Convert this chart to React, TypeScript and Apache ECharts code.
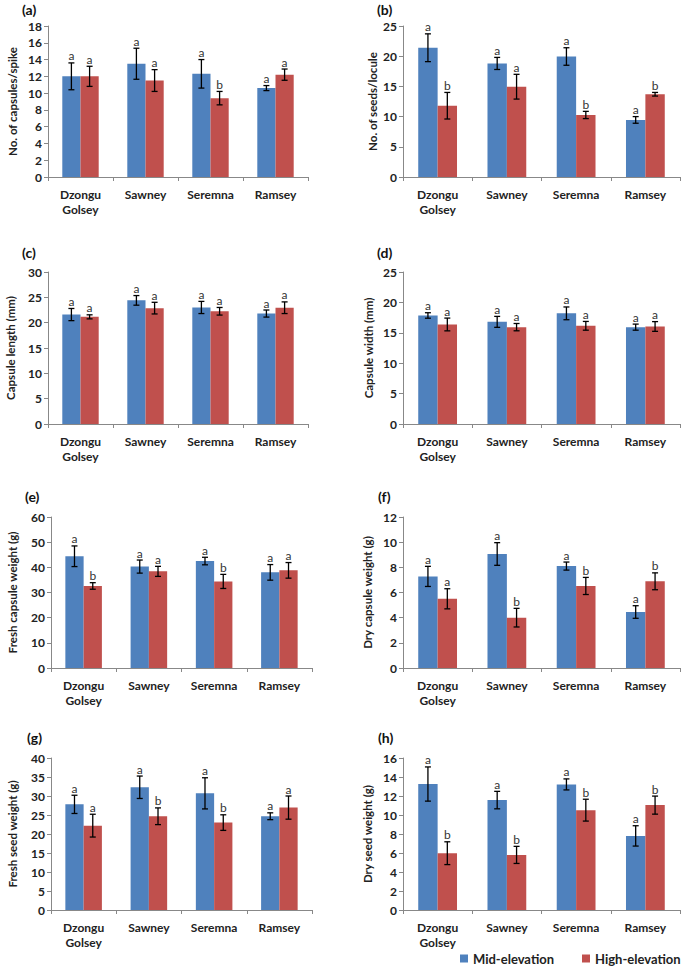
import React, { useEffect, useRef } from "react";
import * as echarts from "echarts";

const categories = ["Dzongu\nGolsey", "Sawney", "Seremna", "Ramsey"];
const seriesNames = ["Mid-elevation", "High-elevation"];

// (a) No. of capsules/spike
const capsMid = [12.0, 13.5, 12.3, 10.6];
const capsMidErr = [1.6, 1.85, 1.7, 0.3];
const capsHigh = [12.0, 11.5, 9.4, 12.2];
const capsHighErr = [1.2, 1.3, 0.8, 0.67];
const capsMidLet = ["a", "a", "a", "a"];
const capsHighLet = ["a", "a", "b", "a"];

// (b) No. of seeds/locule
const seedsMid = [21.4, 18.8, 19.95, 9.45];
const seedsMidErr = [2.3, 1.0, 1.45, 0.55];
const seedsHigh = [11.8, 14.95, 10.27, 13.7];
const seedsHighErr = [2.2, 2.05, 0.6, 0.3];
const seedsMidLet = ["a", "a", "a", "a"];
const seedsHighLet = ["b", "a", "b", "b"];

// (c) Capsule length (mm)
const lenMid = [21.6, 24.4, 23.0, 21.8];
const lenMidErr = [1.2, 0.95, 1.2, 0.7];
const lenHigh = [21.15, 22.87, 22.25, 22.95];
const lenHighErr = [0.4, 1.15, 0.75, 1.15];
const lenMidLet = ["a", "a", "a", "a"];
const lenHighLet = ["a", "a", "a", "a"];

// (d) Capsule width (mm)
const widMid = [17.85, 16.8, 18.2, 15.93];
const widMidErr = [0.45, 0.9, 1.05, 0.5];
const widHigh = [16.37, 15.93, 16.15, 16.04];
const widHighErr = [1.05, 0.6, 0.72, 0.8];
const widMidLet = ["a", "a", "a", "a"];
const widHighLet = ["a", "a", "a", "a"];

// (e) Fresh capsule weight (g)
const fcwMid = [44.4, 40.3, 42.5, 38.0];
const fcwMidErr = [4.1, 2.6, 1.5, 3.1];
const fcwHigh = [32.6, 38.4, 34.4, 38.8];
const fcwHighErr = [1.3, 2.0, 2.8, 3.1];
const fcwMidLet = ["a", "a", "a", "a"];
const fcwHighLet = ["b", "a", "b", "a"];

// (f) Dry capsule weight (g)
const dcwMid = [7.28, 9.06, 8.1, 4.45];
const dcwMidErr = [0.8, 0.9, 0.32, 0.5];
const dcwHigh = [5.5, 4.0, 6.52, 6.89];
const dcwHighErr = [0.8, 0.74, 0.68, 0.67];
const dcwMidLet = ["a", "a", "a", "a"];
const dcwHighLet = ["a", "b", "b", "b"];

// (g) Fresh seed weight (g)
const fswMid = [27.8, 32.3, 30.7, 24.67];
const fswMidErr = [2.4, 2.95, 4.1, 0.9];
const fswHigh = [22.2, 24.67, 23.0, 26.95];
const fswHighErr = [3.0, 2.2, 2.05, 3.05];
const fswMidLet = ["a", "a", "a", "a"];
const fswHighLet = ["a", "b", "b", "a"];

// (h) Dry seed weight (g)
const dswMid = [13.26, 11.57, 13.22, 7.8];
const dswMidErr = [1.8, 0.92, 0.58, 1.07];
const dswHigh = [5.98, 5.8, 10.51, 11.04];
const dswHighErr = [1.2, 0.9, 1.15, 0.95];
const dswMidLet = ["a", "a", "a", "a"];
const dswHighLet = ["b", "b", "b", "b"];

const panelLetters = ["(a)", "(b)", "(c)", "(d)", "(e)", "(f)", "(g)", "(h)"];
const yNames = [
  "No. of capsules/spike",
  "No. of seeds/locule",
  "Capsule length (mm)",
  "Capsule width (mm)",
  "Fresh capsule weight (g)",
  "Dry capsule weight (g)",
  "Fresh seed weight (g)",
  "Dry seed weight (g)",
];
const yMax = [18, 25, 30, 25, 60, 12, 40, 16];
const yInterval = [2, 5, 5, 5, 10, 2, 5, 2];

const panels = [
  { mid: capsMid, midErr: capsMidErr, high: capsHigh, highErr: capsHighErr, midLet: capsMidLet, highLet: capsHighLet },
  { mid: seedsMid, midErr: seedsMidErr, high: seedsHigh, highErr: seedsHighErr, midLet: seedsMidLet, highLet: seedsHighLet },
  { mid: lenMid, midErr: lenMidErr, high: lenHigh, highErr: lenHighErr, midLet: lenMidLet, highLet: lenHighLet },
  { mid: widMid, midErr: widMidErr, high: widHigh, highErr: widHighErr, midLet: widMidLet, highLet: widHighLet },
  { mid: fcwMid, midErr: fcwMidErr, high: fcwHigh, highErr: fcwHighErr, midLet: fcwMidLet, highLet: fcwHighLet },
  { mid: dcwMid, midErr: dcwMidErr, high: dcwHigh, highErr: dcwHighErr, midLet: dcwMidLet, highLet: dcwHighLet },
  { mid: fswMid, midErr: fswMidErr, high: fswHigh, highErr: fswHighErr, midLet: fswMidLet, highLet: fswHighLet },
  { mid: dswMid, midErr: dswMidErr, high: dswHigh, highErr: dswHighErr, midLet: dswMidLet, highLet: dswHighLet },
];

// layout
const grids = [
  { left: 48, top: 26, width: 260, height: 151 },
  { left: 403, top: 26, width: 277, height: 151 },
  { left: 48, top: 272, width: 260, height: 152 },
  { left: 403, top: 272, width: 277, height: 152 },
  { left: 51, top: 517, width: 261, height: 151 },
  { left: 403, top: 517, width: 277, height: 151 },
  { left: 51, top: 758, width: 261, height: 152 },
  { left: 403, top: 758, width: 277, height: 152 },
];
const nameGaps = [30, 25, 32, 29, 33, 30, 33, 30];
const letterPos = [
  [22, 10], [377, 10], [22, 253], [377, 253],
  [25, 497], [378, 497], [27, 738], [378, 738],
];
const legendLeft = [455, 577];

const COLORS = ["#4F81BD", "#C0504D"];
const FONT = "Lato, 'Open Sans', sans-serif";
const BAR_FRAC = 0.28;

function makeErrSeries(idx: number, means: number[], errs: number[], lets: string[], sign: number) {
  return {
    type: "custom",
    xAxisIndex: idx,
    yAxisIndex: idx,
    z: 5,
    silent: true,
    itemStyle: { color: "#333" },
    data: means.map((m, i) => [i, m]),
    encode: { x: 0, y: 1 },
    renderItem: (params: any, api: any) => {
      const i = params.dataIndex;
      const m = means[i];
      const e = errs[i];
      const band = api.size([1, 0])[0];
      const off = (sign * band * BAR_FRAC) / 2;
      const top = api.coord([i, m + e]);
      const bot = api.coord([i, m - e]);
      const x = top[0] + off;
      const cap = 3;
      const st = { stroke: "#000", lineWidth: 1.3 };
      return {
        type: "group",
        children: [
          { type: "line", shape: { x1: x, y1: top[1], x2: x, y2: bot[1] }, style: st },
          { type: "line", shape: { x1: x - cap, y1: top[1], x2: x + cap, y2: top[1] }, style: st },
          { type: "line", shape: { x1: x - cap, y1: bot[1], x2: x + cap, y2: bot[1] }, style: st },
          {
            type: "text",
            style: {
              text: lets[i],
              x: x,
              y: top[1] - 1,
              align: "center",
              verticalAlign: "bottom",
              fontSize: 12,
              fontFamily: FONT,
              fill: "#333",
            },
          },
        ],
      };
    },
  };
}

export default function App() {
  const ref = useRef<HTMLDivElement>(null);
  useEffect(() => {
    if (!ref.current) return;
    const chart = echarts.init(ref.current, null, { renderer: "svg" });
    const series: any[] = [];
    panels.forEach((p, idx) => {
      series.push({
        name: seriesNames[0],
        type: "bar",
        xAxisIndex: idx,
        yAxisIndex: idx,
        data: p.mid,
        barWidth: BAR_FRAC * 100 + "%",
        barGap: "0%",
        itemStyle: { color: COLORS[0] },
      });
      series.push({
        name: seriesNames[1],
        type: "bar",
        xAxisIndex: idx,
        yAxisIndex: idx,
        data: p.high,
        barWidth: BAR_FRAC * 100 + "%",
        barGap: "0%",
        itemStyle: { color: COLORS[1] },
      });
      series.push(makeErrSeries(idx, p.mid, p.midErr, p.midLet, -1));
      series.push(makeErrSeries(idx, p.high, p.highErr, p.highLet, 1));
    });
    const option: any = {
      animation: false,
      backgroundColor: "#fff",
      textStyle: { fontFamily: FONT },
      grid: grids.map((g) => ({ ...g, containLabel: false })),
      xAxis: grids.map((_, idx) => ({
        type: "category",
        gridIndex: idx,
        data: categories,
        boundaryGap: true,
        axisLine: { lineStyle: { color: "#888", width: 1 } },
        axisTick: { show: true, length: 4, lineStyle: { color: "#888" } },
        axisLabel: {
          fontFamily: FONT,
          fontWeight: "bold",
          fontSize: 12,
          color: "#222",
          margin: 10,
          lineHeight: 15,
          interval: 0,
        },
        splitLine: { show: false },
      })),
      yAxis: grids.map((_, idx) => ({
        type: "value",
        gridIndex: idx,
        min: 0,
        max: yMax[idx],
        interval: yInterval[idx],
        name: yNames[idx],
        nameLocation: "middle",
        nameGap: nameGaps[idx],
        nameTextStyle: { fontFamily: FONT, fontWeight: "bold", fontSize: 11.5, color: "#222" },
        axisLine: { show: true, lineStyle: { color: "#888", width: 1 } },
        axisTick: { show: true, length: 4, lineStyle: { color: "#888" } },
        axisLabel: { fontFamily: FONT, fontWeight: "bold", fontSize: 12, color: "#222", margin: 6 },
        splitLine: { show: false },
      })),
      legend: seriesNames.map((n, k) => ({
        data: [n],
        left: legendLeft[k],
        top: 947,
        itemWidth: 8,
        itemHeight: 8,
        icon: "rect",
        textStyle: { fontFamily: FONT, fontWeight: "bold", fontSize: 13, color: "#222" },
      })),
      graphic: panelLetters.map((t, idx) => ({
        type: "text",
        left: letterPos[idx][0],
        top: letterPos[idx][1] - 8,
        style: { text: t, fontFamily: FONT, fontWeight: "bold", fontSize: 14, fill: "#111" },
      })),
      series,
    };
    chart.setOption(option);
    return () => chart.dispose();
  }, []);
  return (
    <div
      ref={ref}
      style={{ position: "absolute", left: 0, top: 0, width: 685, height: 969, background: "#fff" }}
    />
  );
}
